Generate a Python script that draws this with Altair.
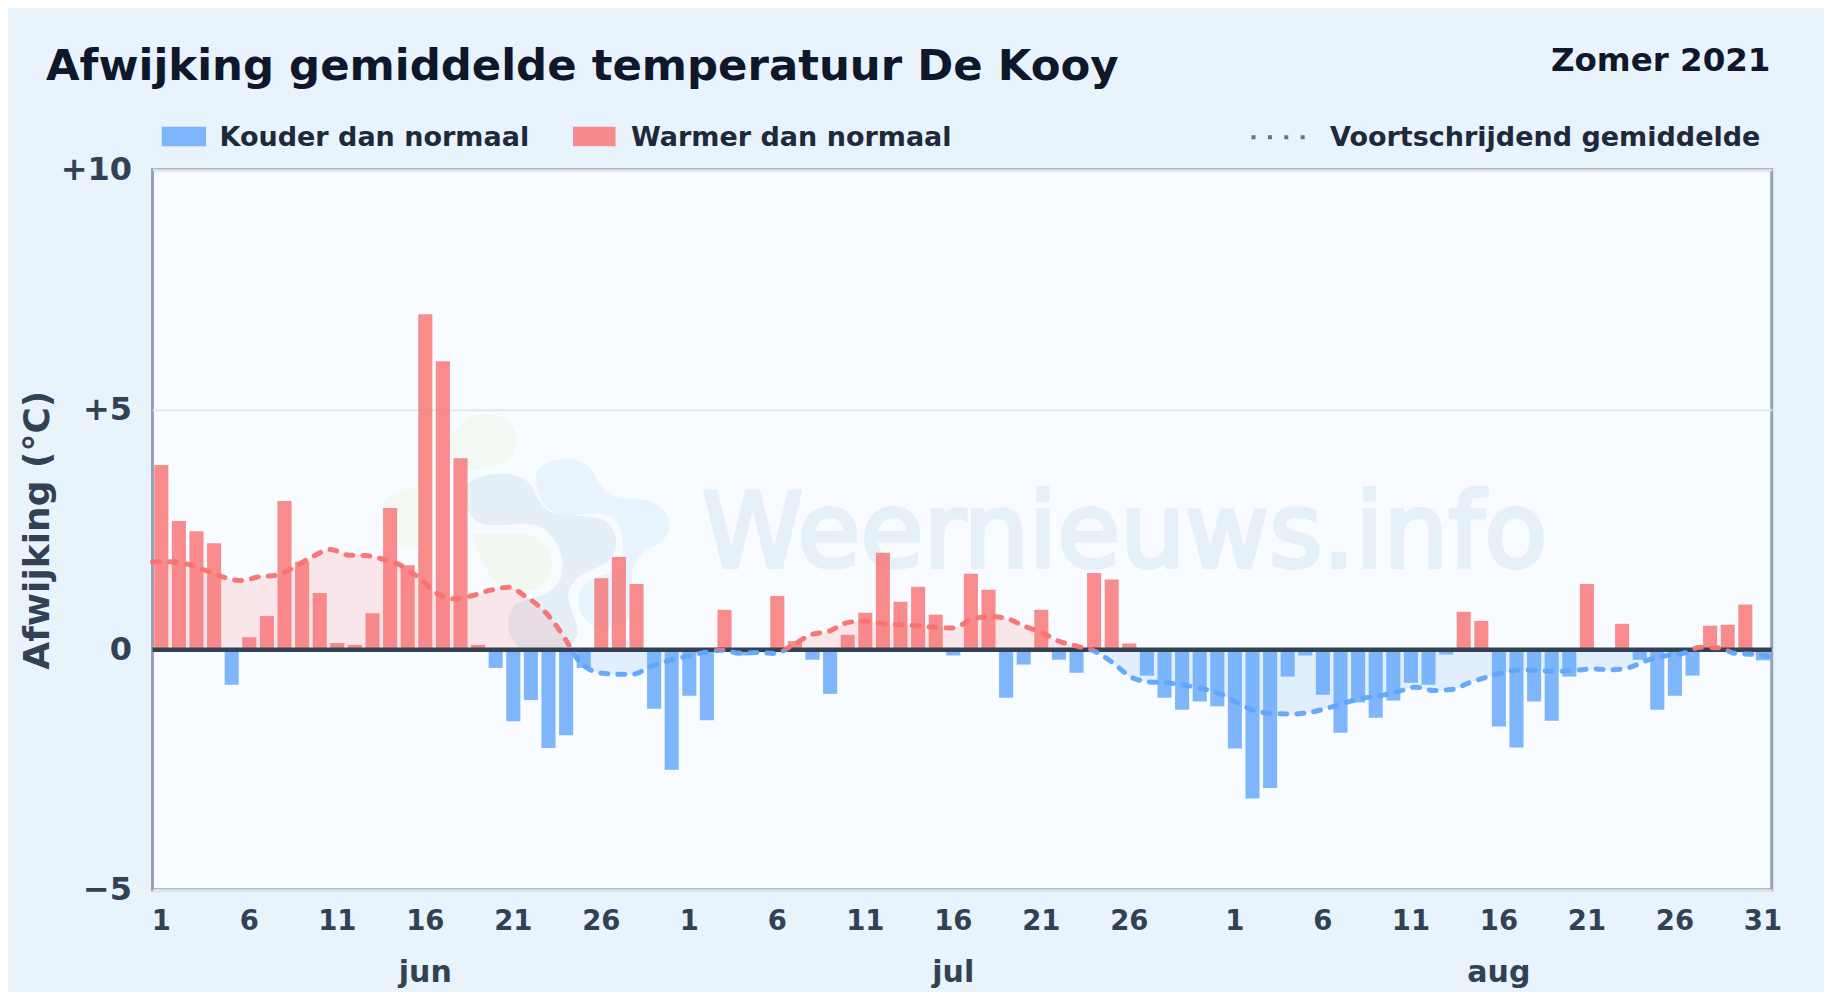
import altair as alt
import pandas as pd

months = ["jun", "jul", "aug"]
month_days = [30, 31, 31]
shown_days = [
    [1, 6, 11, 16, 21, 26],
    [1, 6, 11, 16, 21, 26],
    [1, 6, 11, 16, 21, 26, 31],
]
bar_values = [
    3.85, 2.68, 2.47, 2.22, -0.73, 0.26, 0.70, 3.10, 1.83, 1.18,
    0.14, 0.10, 0.76, 2.95, 1.76, 6.99, 6.01, 3.99, 0.10, -0.38,
    -1.49, -1.05, -2.05, -1.78, -0.38, 1.49, 1.93, 1.37, -1.23, -2.50,
    -0.96, -1.47, 0.83, -0.12, -0.03, 1.12, 0.18, -0.21, -0.92, 0.31,
    0.77, 2.02, 1.00, 1.31, 0.73, -0.12, 1.58, 1.25, -1.00, -0.31,
    0.83, -0.21, -0.48, 1.60, 1.46, 0.13, -0.54, -1.00, -1.25, -1.08,
    -1.18, -2.06, -3.10, -2.88, -0.56, -0.12, -0.94, -1.73, -1.10, -1.42,
    -1.06, -0.69, -0.73, -0.10, 0.79, 0.60, -1.60, -2.04, -1.08, -1.48,
    -0.56, 1.37, 0.00, 0.54, -0.21, -1.25, -0.96, -0.54, 0.50, 0.52,
    0.94, -0.22,
]
line_values = [
    1.83, 1.83, 1.78, 1.65, 1.51, 1.44, 1.52, 1.55, 1.73, 1.94,
    2.09, 1.97, 1.96, 1.88, 1.75, 1.49, 1.17, 1.06, 1.13, 1.24,
    1.30, 1.10, 0.81, 0.34, -0.25, -0.47, -0.51, -0.51, -0.35, -0.23,
    -0.14, -0.06, -0.01, -0.07, -0.06, -0.08, 0.10, 0.31, 0.38, 0.56,
    0.60, 0.54, 0.52, 0.50, 0.47, 0.45, 0.63, 0.69, 0.65, 0.49,
    0.35, 0.17, 0.07, -0.04, -0.28, -0.57, -0.67, -0.69, -0.74, -0.81,
    -0.92, -1.11, -1.28, -1.33, -1.34, -1.31, -1.22, -1.11, -1.01, -0.96,
    -0.87, -0.78, -0.85, -0.83, -0.69, -0.57, -0.47, -0.42, -0.44, -0.45,
    -0.43, -0.40, -0.42, -0.37, -0.22, -0.13, -0.08, 0.05, 0.04, -0.08,
    -0.10, -0.15,
]
y_ticks = [-5, 0, 5, 10]

W, H = 1619.2, 720
RED, BLUE = "#f87171", "#60a5fa"
TICK, TEXT, DARK = "#334155", "#1e293b", "#0f172a"
FONT = "DejaVu Sans"

keys = [f"{m} {d}" for m, n in zip(months, month_days) for d in range(1, n + 1)]
shown = [f"{m} {d}" for m, ds in zip(months, shown_days) for d in ds]
month_keys = [f"{m} 16" for m in months]

bars = pd.DataFrame({
    "key": keys, "v": bar_values,
    "kind": ["warm" if v >= 0 else "cold" for v in bar_values],
})
avg = pd.DataFrame({"i": range(len(line_values)), "v": line_values})
one = pd.DataFrame({"a": [0]})

y_scale = alt.Scale(domain=[-5, 10], nice=False, zero=False)
x_band = alt.X(
    "key:N", sort=None,
    scale=alt.Scale(domain=keys, paddingInner=0.2, paddingOuter=0.1),
    axis=alt.Axis(
        values=shown, labelExpr="split(datum.label, ' ')[1]", labelAngle=0,
        labelOverlap=False, labelPadding=18, labelFontSize=27.5, labelFontWeight="bold",
        labelColor=TICK, labelFont=FONT, ticks=False, domain=False, grid=False, title=None,
    ),
)
y_axis = alt.Axis(
    values=y_ticks,
    labelExpr="datum.value > 0 ? '+' + datum.value : datum.value < 0 ? '−' + abs(datum.value) : '0'",
    labelPadding=21, labelFontSize=32, labelFontWeight="bold", labelColor=TICK, labelFont=FONT,
    ticks=False, domain=False, grid=True, gridColor="#e2e8f0", gridWidth=2,
    title="Afwijking (°C)", titleFontSize=36, titleFontWeight="bold", titleColor=TICK,
    titleFont=FONT, titleX=-96, titleY=360,
)
x_line = alt.X("i:Q", scale=alt.Scale(domain=[0, len(line_values) - 1], nice=False, zero=False), axis=None)

top, bottom = max(line_values), min(line_values)
cross = top / (top - bottom)


def split_gradient():
    return alt.Gradient(
        gradient="linear", x1=0, x2=0, y1=0, y2=1,
        stops=[
            alt.GradientStop(color=RED, offset=0),
            alt.GradientStop(color=RED, offset=cross),
            alt.GradientStop(color=BLUE, offset=cross),
            alt.GradientStop(color=BLUE, offset=1),
        ],
    )


def label(text, x, y, size, color=TEXT, align="left", weight="bold", **kw):
    return alt.Chart(one).mark_text(
        text=text, fontSize=size, fontWeight=weight, font=FONT, color=color,
        align=align, baseline="alphabetic", **kw,
    ).encode(x=alt.value(x), y=alt.value(y))


def swatch(x, x2, color):
    return alt.Chart(one).mark_rect(color=color, opacity=0.8).encode(
        x=alt.value(x), x2=alt.value(x2), y=alt.value(-43), y2=alt.value(-23.5)
    )


def blob(path, color):
    return alt.Chart(one).mark_point(
        shape=path, size=0.444, filled=True, fill=color, opacity=1, stroke=None,
    ).encode(x=alt.value(207.5), y=alt.value(220.3))


blob_light = ("M530,250 C540,210 640,190 680,225 C710,250 710,290 760,320 C800,335 860,315 900,350 "
              "C945,390 935,440 890,465 C850,480 820,510 815,560 L815,680 L740,715 C690,720 650,670 655,620 "
              "C665,570 720,555 775,545 C800,490 790,420 770,395 C740,355 680,375 620,378 C560,378 520,310 530,250 Z")
blob_dark = ("M320,285 C345,250 440,240 490,265 C530,290 520,330 570,365 C620,390 690,365 740,395 "
             "C780,430 780,500 730,525 C680,545 630,565 625,620 C630,670 660,700 650,740 C640,770 620,775 590,775 "
             "L480,775 C440,740 430,680 470,640 C510,620 570,625 600,570 C625,510 590,430 530,405 "
             "C470,395 410,415 360,400 C320,380 310,330 320,285 Z")
blob_g1 = "M270,150 C290,90 360,55 425,80 C480,110 485,180 445,210 C400,235 340,240 280,245 Z"
blob_g2 = "M65,340 C90,310 140,300 190,290 L190,475 L120,470 C85,450 55,385 65,340 Z"
blob_g3 = "M335,430 C400,440 460,425 510,435 C575,460 600,530 550,585 C500,625 440,600 400,570 C370,530 350,480 335,430 Z"

watermark_logo = alt.layer(
    blob(blob_g1, "#f2f9f2"), blob(blob_g2, "#f2f9f2"), blob(blob_g3, "#f1f8f0"),
    blob(blob_light, "#e7f4fe"), blob(blob_dark, "#e5eff8"),
)
watermark_text = label("Weernieuws.info", 549.5, 397, 102.5, color="#e6f0f9", weight="normal",
                       stroke="#e6f0f9", strokeWidth=4)

area = alt.Chart(avg).mark_area(fill=split_gradient(), opacity=0.15, interpolate="monotone").encode(
    x=x_line, y=alt.Y("v:Q", scale=y_scale, axis=y_axis), y2=alt.datum(0)
)
bar_layer = alt.Chart(bars).mark_bar(opacity=0.8).encode(
    x=x_band,
    y=alt.Y("v:Q", scale=y_scale, axis=y_axis, stack=None),
    color=alt.Color("kind:N", scale=alt.Scale(domain=["warm", "cold"], range=[RED, BLUE]), legend=None),
)
zero_rule = alt.Chart(one).mark_rule(color=TICK, strokeWidth=4.5).encode(y=alt.datum(0))
line = alt.Chart(avg).mark_line(
    stroke=split_gradient(), strokeWidth=5, strokeDash=[7, 10], strokeCap="round",
    opacity=0.95, interpolate="monotone",
).encode(x=x_line, y=alt.Y("v:Q", scale=y_scale))
month_text = alt.Chart(pd.DataFrame({"key": month_keys, "m": months})).mark_text(
    fontSize=30, fontWeight="bold", font=FONT, color=TICK, baseline="alphabetic"
).encode(x=alt.X("key:N", sort=None, scale=alt.Scale(domain=keys, paddingInner=0.2, paddingOuter=0.1), axis=None),
         y=alt.value(812), text="m:N")

legend_dots = alt.Chart(one).mark_rule(color="#64748b", strokeWidth=4, strokeDash=[4, 12.4]).encode(
    x=alt.value(1099), x2=alt.value(1157), y=alt.value(-32.5)
)

chart = alt.layer(
    watermark_logo, watermark_text, area, bar_layer, zero_rule, line, month_text,
    label("Afwijking gemiddelde temperatuur De Kooy", -106.5, -90.2, 43.4, color=DARK),
    label("Zomer 2021", 1618, -98.5, 32.5, color=DARK, align="right"),
    swatch(9.3, 53.5, BLUE), label("Kouder dan normaal", 67, -23.5, 27),
    swatch(420.5, 463, RED), label("Warmer dan normaal", 478.5, -23.5, 27),
    legend_dots, label("Voortschrijdend gemiddelde", 1177.5, -23.5, 27),
).resolve_scale(x="independent").properties(
    width=W, height=H, background="#e9f3fc",
    autosize=alt.AutoSizeParams(type="none"),
    padding={"left": 144.5, "top": 161.7, "right": 52.3, "bottom": 102.3},
).configure_view(fill="#f8fbff", stroke="#94a3b8", strokeWidth=3)

chart.save("out.html", embed_options={"renderer": "svg", "actions": False})
